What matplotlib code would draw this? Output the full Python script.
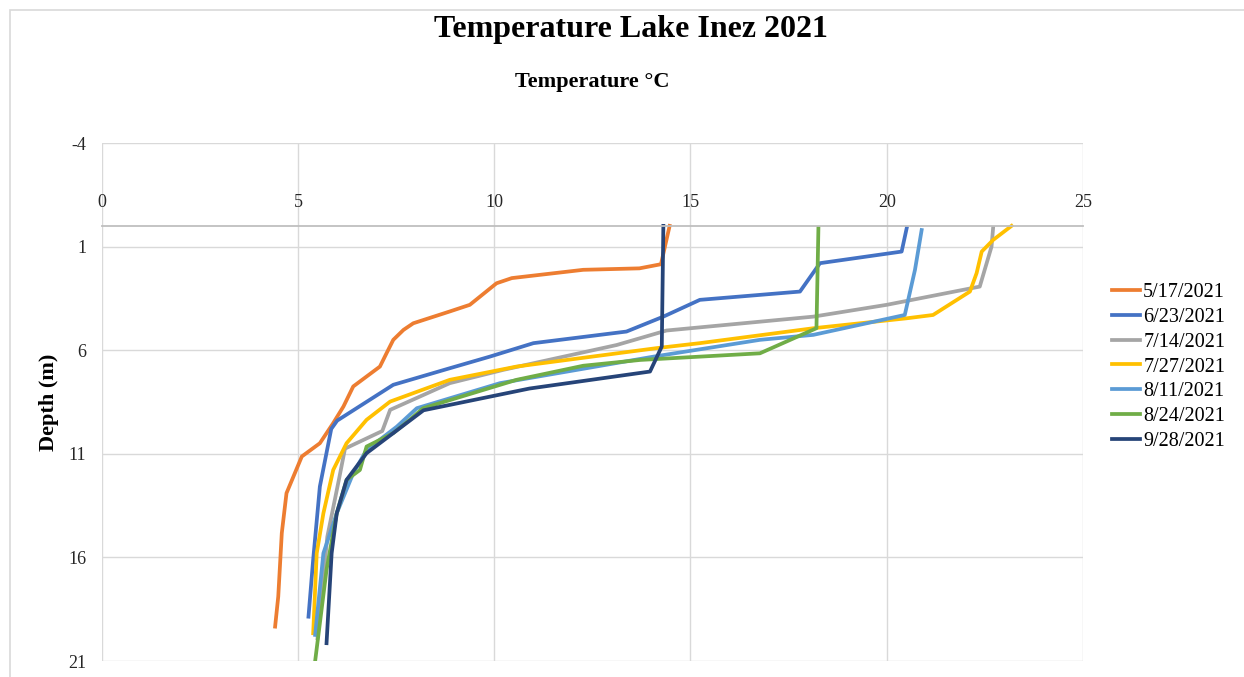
import matplotlib
matplotlib.use("Agg")
import matplotlib.pyplot as plt
from matplotlib.patches import Rectangle

# temperature profiles (°C) vs depth (m)
dates = ["5/17/2021", "6/23/2021", "7/14/2021", "7/27/2021", "8/11/2021", "8/24/2021", "9/28/2021"]
colors = ["#ED7D31", "#4472C4", "#A5A5A5", "#FFC000", "#5B9BD5", "#70AD47", "#264478"]

temp_0517 = [14.47, 14.35, 14.25, 13.7, 12.27, 10.45, 10.06, 9.38, 8.87, 7.94, 7.69, 7.43, 7.26, 7.09, 6.41, 6.16, 5.90, 5.56, 5.10, 4.71, 4.59, 4.50, 4.42]
depth_0517 = [0.0, 1.0, 1.85, 2.05, 2.12, 2.52, 2.77, 3.81, 4.13, 4.7, 5.02, 5.5, 6.14, 6.79, 7.75, 8.72, 9.52, 10.49, 11.13, 12.9, 14.83, 17.89, 19.34]

temp_0623 = [20.51, 20.38, 18.30, 17.79, 15.24, 14.31, 13.37, 11.0, 9.89, 8.87, 7.43, 6.0, 5.85, 5.56, 5.39, 5.27]
depth_0623 = [0.1, 1.24, 1.8, 3.17, 3.57, 4.38, 5.1, 5.66, 6.31, 6.87, 7.67, 9.4, 9.8, 12.58, 16.1, 18.86]

temp_0714 = [22.71, 22.67, 22.37, 20.0, 18.13, 14.39, 13.12, 10.23, 8.87, 7.35, 7.15, 6.2, 6.05, 5.75, 5.5]
depth_0714 = [0.1, 1.0, 2.93, 3.81, 4.38, 5.05, 5.75, 6.95, 7.59, 8.88, 9.9, 10.75, 12.2, 15.0, 19.9]

temp_0727 = [23.18, 22.71, 22.42, 22.29, 22.12, 21.18, 20.51, 18.13, 15.24, 14.14, 10.57, 8.87, 7.35, 6.75, 6.24, 5.9, 5.65, 5.48, 5.39]
depth_0727 = [0.0, 0.68, 1.24, 2.28, 3.17, 4.3, 4.46, 4.94, 5.66, 5.9, 6.79, 7.43, 8.48, 9.36, 10.49, 11.78, 13.87, 15.8, 19.66]

temp_0811 = [20.89, 20.72, 20.46, 18.13, 16.77, 14.06, 10.15, 8.03, 7.52, 6.75, 6.41, 5.99, 5.65, 5.44]
depth_0811 = [0.2, 2.12, 4.3, 5.26, 5.5, 6.31, 7.59, 8.8, 9.69, 10.81, 11.94, 13.87, 15.8, 19.74]

temp_0824 = [18.26, 18.21, 16.77, 13.72, 12.27, 10.57, 8.19, 7.85, 7.43, 6.75, 6.58, 6.24, 5.99, 5.73, 5.44]
depth_0824 = [0.1, 4.94, 6.15, 6.47, 6.75, 7.43, 8.8, 9.36, 10.0, 10.65, 11.78, 12.26, 13.87, 16.6, 21.0]

temp_0928 = [14.31, 14.27, 13.97, 10.9, 8.2, 7.43, 6.75, 6.24, 5.99, 5.86, 5.73]
depth_0928 = [0.0, 5.82, 7.03, 7.85, 8.9, 10.0, 10.97, 12.26, 13.87, 15.8, 20.14]

temps = [temp_0517, temp_0623, temp_0714, temp_0727, temp_0811, temp_0824, temp_0928]
depths = [depth_0517, depth_0623, depth_0714, depth_0727, depth_0811, depth_0824, depth_0928]

x_ticks = [0, 5, 10, 15, 20, 25]
y_ticks = [-4, 1, 6, 11, 16, 21]

plt.rcParams["font.family"] = ["Liberation Serif", "DejaVu Serif"]
plt.rcParams["axes.unicode_minus"] = False

fig = plt.figure(figsize=(12.44, 6.77), dpi=100)
# faint outer frame of the chart area
fig.patches.append(Rectangle((10 / 1244, -0.1), 1.2, 1 - 10 / 677 + 0.1, transform=fig.transFigure,
                             fill=False, edgecolor="#D9D9D9", lw=1.2))

ax = fig.add_axes([101.6 / 1244, 1 - 661 / 677, (1083 - 101.6) / 1244, (661 - 143) / 677])

for t, d, c, name in zip(temps, depths, colors, dates):
    ax.plot(t, d, color=c, lw=2.7, label=name, solid_joinstyle="round")

ax.set_xlim(0, 25)
ax.set_ylim(21, -4)
ax.set_xticks(x_ticks)
ax.set_yticks(y_ticks)
ax.grid(True, color="#D9D9D9", lw=1)
ax.set_axisbelow(True)

for s in ["left", "right", "bottom"]:
    ax.spines[s].set_visible(False)
# x axis crosses at depth 0, labels above it
ax.spines["top"].set_position(("data", 0))
ax.spines["top"].set_color("#BFBFBF")
ax.spines["top"].set_linewidth(1.3)
ax.xaxis.tick_top()
ax.tick_params(axis="x", length=0, pad=11, labelsize=13, colors="#262626")
ax.tick_params(axis="y", length=0, pad=11, labelsize=13, colors="#262626")

ax.set_ylabel("Depth (m)", fontsize=16, fontweight="bold")
ax.yaxis.set_label_coords(-0.043, 0.5)

fig.text(631 / 1244, 1 - 29 / 677, "Temperature Lake Inez 2021", ha="center", va="center",
         fontsize=23, fontweight="bold")
fig.text(592 / 1244, 1 - 82 / 677, "Temperature °C", ha="center", va="center",
         fontsize=16, fontweight="bold")

ax.legend(loc="center left", bbox_to_anchor=(1112 / 1244, 1 - 367 / 677), bbox_transform=fig.transFigure,
          frameon=False, fontsize=14.5, handlelength=1.4, handletextpad=0.15, labelspacing=0.28,
          borderaxespad=0, borderpad=0)

fig.savefig("out.png", dpi=100)
